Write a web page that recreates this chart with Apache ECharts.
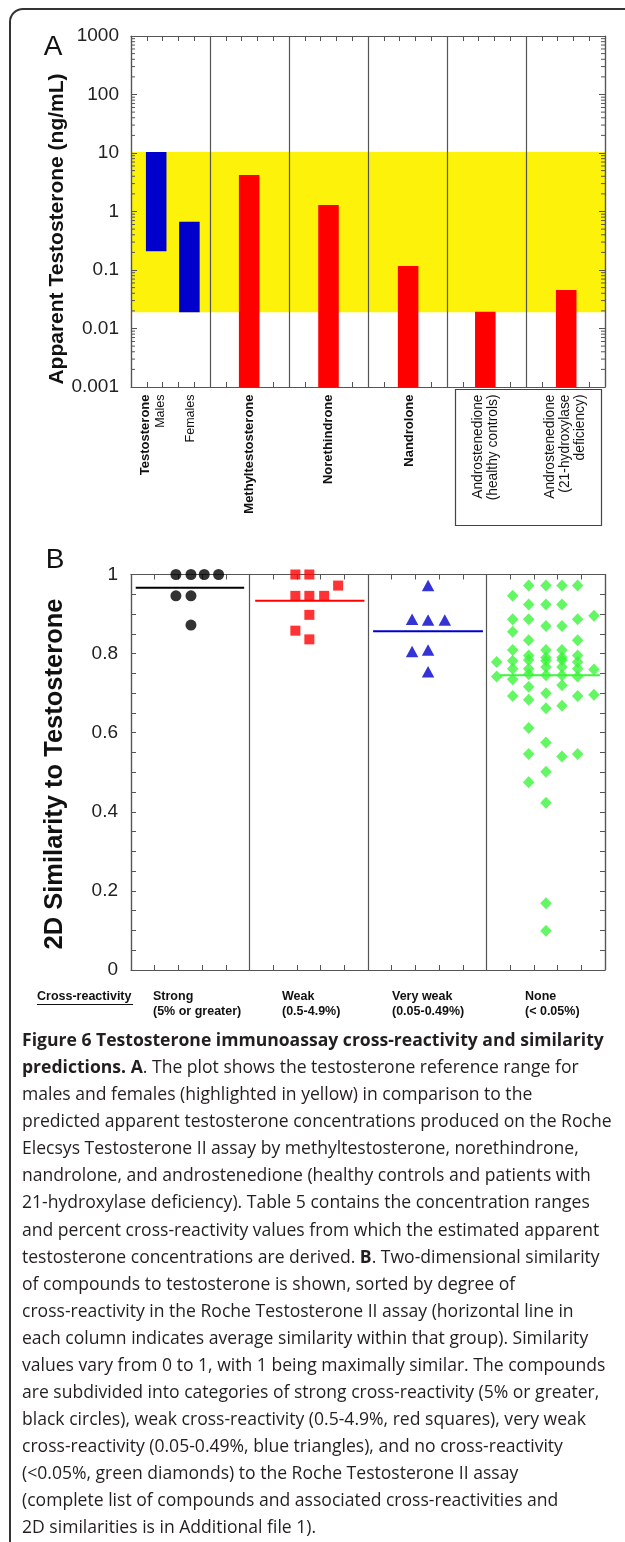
<!DOCTYPE html>
<html>
<head>
<meta charset="utf-8">
<script src="https://cdn.jsdelivr.net/npm/echarts@6/dist/echarts.min.js"></script>
<style>
html,body{margin:0;padding:0;background:#fff;}
#wrap{position:relative;width:625px;height:1542px;overflow:hidden;background:#fff;}
#frame{position:absolute;left:9px;top:8px;width:700px;height:1600px;border:2px solid #333;border-radius:14px;box-sizing:border-box;}
#chart{position:absolute;left:0;top:0;width:625px;height:1030px;}
#caption{position:absolute;left:22px;top:1026px;font-family:"Open Sans",sans-serif;color:#231f20;white-space:nowrap;}
#caption div{line-height:27.08px;height:27.08px;}
#caption b{font-weight:700;}
</style>
</head>
<body>
<div id="wrap">
  <div id="frame"></div>
  <div id="chart"></div>
  <div id="caption"></div>
</div>
<script>
// ---------------- Panel A data ----------------
const labelLinesA = [
  ['Testosterone', 'Males'],
  ['Females'],
  ['Methyltestosterone'],
  ['Norethindrone'],
  ['Nandrolone'],
  ['Androstenedione', '(healthy controls)'],
  ['Androstenedione', '(21-hydroxylase', 'deficiency)']
];
const barXA    = [0.319, 0.739, 1.496, 2.50, 3.508, 4.485, 5.509];
const barLowA  = [0.21, 0.019, 0.001, 0.001, 0.001, 0.001, 0.001];
const barHighA = [10.4, 0.67, 4.2, 1.29, 0.117, 0.0194, 0.0455];
const barKindA = ['reference', 'reference', 'drug', 'drug', 'drug', 'drug', 'drug'];
const labelXA  = [0.276, 0.751, 1.505, 2.50, 3.52, 4.495, 5.49];
const refRangeA = [0.019, 10.4];
const yTickLabelsA = ['0.001', '0.01', '0.1', '1', '10', '100', '1000'];

// ---------------- Panel B data ----------------
const groupsB = ['Strong\n(5% or greater)', 'Weak\n(0.5-4.9%)', 'Very weak\n(0.05-0.49%)', 'None\n(< 0.05%)'];
const strongPts = [[0.379,1.0],[0.506,1.0],[0.618,1.0],[0.739,1.0],[0.379,0.946],[0.506,0.946],[0.506,0.872]];
const weakPts = [[1.387,1.0],[1.505,1.0],[1.748,0.972],[1.387,0.946],[1.505,0.946],[1.63,0.946],[1.505,0.898],[1.387,0.858],[1.505,0.836]];
const veryWeakPts = [[2.507,0.972],[2.372,0.887],[2.507,0.885],[2.648,0.885],[2.372,0.805],[2.507,0.809],[2.507,0.754]];
const nonePts = [
  [3.356,0.972],[3.502,0.972],[3.637,0.972],[3.769,0.972],
  [3.221,0.946],
  [3.356,0.924],[3.502,0.924],[3.637,0.924],
  [3.907,0.896],
  [3.221,0.887],[3.356,0.887],[3.769,0.887],
  [3.502,0.870],[3.637,0.870],
  [3.221,0.855],
  [3.356,0.834],[3.769,0.834],
  [3.221,0.809],[3.502,0.809],[3.637,0.809],
  [3.356,0.795],[3.769,0.795],
  [3.502,0.790],[3.637,0.790],
  [3.086,0.779],[3.221,0.782],[3.356,0.784],[3.502,0.782],[3.637,0.784],[3.769,0.779],
  [3.221,0.762],[3.356,0.762],[3.502,0.766],[3.637,0.766],[3.769,0.762],[3.907,0.760],
  [3.086,0.742],[3.221,0.735],[3.356,0.748],[3.502,0.745],[3.637,0.745],[3.769,0.742],
  [3.356,0.716],[3.637,0.720],
  [3.221,0.693],[3.502,0.700],[3.769,0.693],[3.907,0.696],
  [3.356,0.683],
  [3.502,0.662],[3.637,0.668],
  [3.356,0.612],
  [3.502,0.575],
  [3.356,0.546],[3.637,0.540],[3.769,0.546],
  [3.502,0.501],
  [3.356,0.475],
  [3.502,0.423],
  [3.502,0.169],
  [3.502,0.099]
];
const yTickLabelsB = ['0', '0.2', '0.4', '0.6', '0.8', '1'];
const groupPtsB = [strongPts, weakPts, veryWeakPts, nonePts];
const meansB = groupPtsB.map(g => g.reduce((s, p) => s + p[1], 0) / g.length);

// ---------------- Caption ----------------
const captionLines = [
  '<b>Figure 6 Testosterone immunoassay cross-reactivity and similarity</b>',
  '<b>predictions. A</b>. The plot shows the testosterone reference range for',
  'males and females (highlighted in yellow) in comparison to the',
  'predicted apparent testosterone concentrations produced on the Roche',
  'Elecsys Testosterone II assay by methyltestosterone, norethindrone,',
  'nandrolone, and androstenedione (healthy controls and patients with',
  '21-hydroxylase deficiency). Table 5 contains the concentration ranges',
  'and percent cross-reactivity values from which the estimated apparent',
  'testosterone concentrations are derived. <b>B</b>. Two-dimensional similarity',
  'of compounds to testosterone is shown, sorted by degree of',
  'cross-reactivity in the Roche Testosterone II assay (horizontal line in',
  'each column indicates average similarity within that group). Similarity',
  'values vary from 0 to 1, with 1 being maximally similar. The compounds',
  'are subdivided into categories of strong cross-reactivity (5% or greater,',
  'black circles), weak cross-reactivity (0.5-4.9%, red squares), very weak',
  'cross-reactivity (0.05-0.49%, blue triangles), and no cross-reactivity',
  '(&lt;0.05%, green diamonds) to the Roche Testosterone II assay',
  '(complete list of compounds and associated cross-reactivities and',
  '2D similarities is in Additional file 1).'
];

// ---------------- Styles ----------------
const FONT = '"Liberation Sans", Arial, Helvetica, sans-serif';
const AX = '#555';
const COLORS_A = {reference: '#0000CC', drug: '#FF0000'};
const YELLOW = '#FCF20A';
const labelBoldA = [[true,false],[false],[true],[true],[true],[false,false],[false,false,false]];
const labelSizeA = [[13,12.5],[12.5],[13],[13],[13],[13.8,13.8],[13.8,13.8,13.8]];
const groupColorsB = ['#000000', '#FF0000', '#0000CC', '#3CF53C'];
const meanSpanB = [[0.04,0.955],[0.048,0.97],[0.043,0.97],[0.114,0.957]];
const groupLabelXB = [153, 282, 392, 525];

// caption build: size chosen so that the widest line spans the text block width
const cap = document.getElementById('caption');
cap.innerHTML = captionLines.map(l => '<div><span>' + l + '</span></div>').join('');
(function fitCaption(){
  cap.style.fontSize = '100px';
  let maxW = 0;
  cap.querySelectorAll('span').forEach(s => { maxW = Math.max(maxW, s.getBoundingClientRect().width); });
  cap.style.fontSize = (590 / maxW * 100).toFixed(3) + 'px';
})();

// log minor tick values (axis decoration)
const logMinor = [];
for (let k = -3; k <= 2; k++) for (let m = 2; m <= 9; m++) logMinor.push(m * Math.pow(10, k));

function xAxisCfg(grid, max, pos, split) {
  return {
    gridIndex: grid, type: 'value', min: 0, max: max, interval: 1, position: pos, z: 3,
    axisLine: {show: true, onZero: false, lineStyle: {color: AX, width: 1.2}},
    axisTick: {show: true, inside: true, length: 5, lineStyle: {color: AX}},
    minorTick: {show: true, splitNumber: 5, length: 5, lineStyle: {color: AX}},
    axisLabel: {show: false},
    splitLine: {show: split, lineStyle: {color: AX, width: 1.2}},
    minorSplitLine: {show: false}
  };
}

const chart = echarts.init(document.getElementById('chart'), null, {renderer: 'canvas', width: 625, height: 1030});

const option = {
  animation: false,
  backgroundColor: 'transparent',
  grid: [
    {left: 131, top: 36, width: 474, height: 351},
    {left: 131, top: 574.5, width: 474, height: 395.5}
  ],
  xAxis: [
    xAxisCfg(0, 6, 'bottom', true),
    xAxisCfg(0, 6, 'top', false),
    xAxisCfg(1, 4, 'bottom', true),
    xAxisCfg(1, 4, 'top', false)
  ],
  yAxis: [
    {gridIndex: 0, type: 'log', logBase: 10, min: 0.001, max: 1000, position: 'left', z: 3,
     axisLine: {show: true, onZero: false, lineStyle: {color: AX, width: 1.2}},
     axisTick: {show: true, inside: true, length: 6, lineStyle: {color: AX}},
     axisLabel: {show: true, fontFamily: FONT, fontSize: 19, color: '#222', margin: 12,
       formatter: v => yTickLabelsA[Math.round(Math.log10(v)) + 3]},
     splitLine: {show: false}},
    {gridIndex: 0, type: 'log', logBase: 10, min: 0.001, max: 1000, position: 'right', z: 3,
     axisLine: {show: true, onZero: false, lineStyle: {color: AX, width: 1.2}},
     axisTick: {show: true, inside: true, length: 6, lineStyle: {color: AX}},
     axisLabel: {show: false}, splitLine: {show: false}},
    {gridIndex: 1, type: 'value', min: 0, max: 1, interval: 0.2, position: 'left', z: 3,
     axisLine: {show: true, onZero: false, lineStyle: {color: AX, width: 1.2}},
     axisTick: {show: true, inside: true, length: 5, lineStyle: {color: AX}},
     minorTick: {show: true, splitNumber: 4, length: 5, lineStyle: {color: AX}},
     axisLabel: {show: true, fontFamily: FONT, fontSize: 19, color: '#222', margin: 13,
       formatter: v => yTickLabelsB[Math.round(v / 0.2)]},
     splitLine: {show: false}},
    {gridIndex: 1, type: 'value', min: 0, max: 1, interval: 0.2, position: 'right', z: 3,
     axisLine: {show: true, onZero: false, lineStyle: {color: AX, width: 1.2}},
     axisTick: {show: true, inside: true, length: 5, lineStyle: {color: AX}},
     minorTick: {show: true, splitNumber: 4, length: 5, lineStyle: {color: AX}},
     axisLabel: {show: false}, splitLine: {show: false}}
  ],
  series: [
    // yellow reference band
    {type: 'custom', xAxisIndex: 0, yAxisIndex: 0, z: 1, silent: true,
     data: [[0, refRangeA[0], 6, refRangeA[1]]],
     renderItem: (params, api) => {
       const a = api.coord([api.value(0), api.value(1)]);
       const b = api.coord([api.value(2), api.value(3)]);
       return {type: 'rect', shape: {x: a[0], y: b[1], width: b[0] - a[0], height: a[1] - b[1]},
               style: {fill: YELLOW}};
     }},
    // floating bars
    {type: 'custom', xAxisIndex: 0, yAxisIndex: 0, z: 4, silent: true,
     data: barXA.map((x, i) => [x, barLowA[i], barHighA[i], i]),
     renderItem: (params, api) => {
       const x = api.value(0), i = api.value(3);
       const lo = api.coord([x - 0.13, api.value(1)]);
       const hi = api.coord([x + 0.13, api.value(2)]);
       return {type: 'rect', shape: {x: lo[0], y: hi[1], width: hi[0] - lo[0], height: lo[1] - hi[1]},
               style: {fill: COLORS_A[barKindA[i]]}};
     }},
    // log minor ticks on both sides
    {type: 'custom', xAxisIndex: 0, yAxisIndex: 0, z: 5, silent: true,
     data: logMinor.map(v => [0, v]),
     renderItem: (params, api) => {
       const p = api.coord([0, api.value(1)]);
       const cs = params.coordSys;
       return {type: 'group', children: [
         {type: 'line', shape: {x1: cs.x, y1: p[1], x2: cs.x + 4, y2: p[1]}, style: {stroke: AX, lineWidth: 1}},
         {type: 'line', shape: {x1: cs.x + cs.width, y1: p[1], x2: cs.x + cs.width - 4, y2: p[1]}, style: {stroke: AX, lineWidth: 1}}
       ]};
     }},
    // rotated category labels for panel A
    {type: 'custom', xAxisIndex: 0, yAxisIndex: 0, z: 5, silent: true, clip: false,
     data: labelXA.map((x, i) => [x, 0.001, i]),
     renderItem: (params, api) => {
       const i = api.value(2);
       const p = api.coord([api.value(0), api.value(1)]);
       const lines = labelLinesA[i];
       const n = lines.length;
       return {type: 'group', children: lines.map((t, j) => ({
         type: 'text', x: p[0] + (j - (n - 1) / 2) * 15, y: p[1] + 7.5, rotation: Math.PI / 2,
         style: {text: t, fontFamily: FONT, fontSize: labelSizeA[i][j],
                 fontWeight: labelBoldA[i][j] ? 'bold' : 'normal', fill: '#111',
                 align: 'right', verticalAlign: 'middle'}
       }))};
     }},
    // panel B scatter groups
    {type: 'scatter', xAxisIndex: 2, yAxisIndex: 2, z: 4, silent: true, data: strongPts,
     symbol: 'circle', symbolSize: 11, itemStyle: {color: groupColorsB[0]}},
    {type: 'scatter', xAxisIndex: 2, yAxisIndex: 2, z: 4, silent: true, data: weakPts,
     symbol: 'rect', symbolSize: 10, itemStyle: {color: groupColorsB[1]}},
    {type: 'scatter', xAxisIndex: 2, yAxisIndex: 2, z: 4, silent: true, data: veryWeakPts,
     symbol: 'triangle', symbolSize: [12.5, 11.5], itemStyle: {color: groupColorsB[2]}},
    {type: 'scatter', xAxisIndex: 2, yAxisIndex: 2, z: 4, silent: true, data: nonePts,
     symbol: 'diamond', symbolSize: [11.5, 12], itemStyle: {color: groupColorsB[3]}},
    // mean lines
    {type: 'custom', xAxisIndex: 2, yAxisIndex: 2, z: 6, silent: true,
     data: meansB.map((m, i) => [i, m]),
     renderItem: (params, api) => {
       const i = api.value(0), m = api.value(1);
       const a = api.coord([i + meanSpanB[i][0], m]);
       const b = api.coord([i + meanSpanB[i][1], m]);
       return {type: 'line', shape: {x1: a[0], y1: a[1], x2: b[0], y2: b[1]},
               style: {stroke: groupColorsB[i], lineWidth: 2}};
     }}
  ],
  graphic: [
    {type: 'text', x: 53, y: 47, style: {text: 'A', fontFamily: FONT, fontSize: 28, fill: '#111', align: 'center', verticalAlign: 'middle'}},
    {type: 'text', x: 55, y: 560, style: {text: 'B', fontFamily: FONT, fontSize: 28, fill: '#111', align: 'center', verticalAlign: 'middle'}},
    {type: 'text', x: 57, y: 229, rotation: Math.PI / 2,
     style: {text: 'Apparent Testosterone (ng/mL)', fontFamily: FONT, fontSize: 21, fontWeight: 'bold', fill: '#111', align: 'center', verticalAlign: 'middle'}},
    {type: 'text', x: 55, y: 774, rotation: Math.PI / 2,
     style: {text: '2D Similarity to Testosterone', fontFamily: FONT, fontSize: 25.5, fontWeight: 'bold', fill: '#111', align: 'center', verticalAlign: 'middle'}},
    {type: 'rect', shape: {x: 455.5, y: 389.5, width: 146, height: 136},
     style: {fill: 'none', stroke: '#444', lineWidth: 1.2}},
    {type: 'text', x: 37, y: 997, style: {text: 'Cross-reactivity', fontFamily: FONT, fontSize: 12.5, fontWeight: 'bold', fill: '#111', align: 'left', verticalAlign: 'middle'}},
    {type: 'line', shape: {x1: 37, y1: 1004.5, x2: 133, y2: 1004.5}, style: {stroke: '#111', lineWidth: 1}}
  ].concat(groupsB.map((t, i) => ({
    type: 'text', x: groupLabelXB[i], y: 1004.2,
    style: {text: t, fontFamily: FONT, fontSize: 12.5, fontWeight: 'bold', fill: '#111',
            align: 'left', verticalAlign: 'middle', lineHeight: 15}
  })))
};
chart.setOption(option);
</script>
</body>
</html>
